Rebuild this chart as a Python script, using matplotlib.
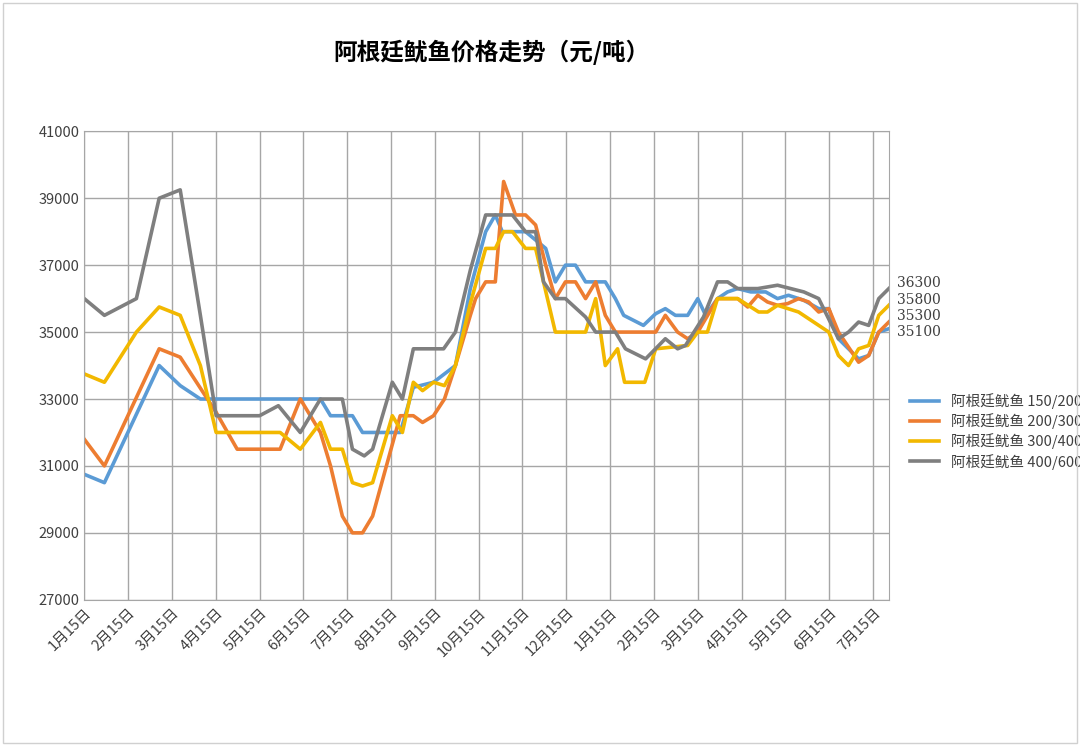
import matplotlib
matplotlib.use("Agg")
import matplotlib.pyplot as plt
from matplotlib.patches import Rectangle
from matplotlib import font_manager

cjk = [f.name for f in font_manager.fontManager.ttflist if "CJK" in f.name]
plt.rcParams['font.family'] = "sans-serif"
plt.rcParams['font.sans-serif'] = sorted(set(cjk), key=lambda n: ("SC" not in n, n)) + ["DejaVu Sans"]

# month labels (x = months since first label)
months = ["1月15日", "2月15日", "3月15日", "4月15日", "5月15日", "6月15日", "7月15日",
          "8月15日", "9月15日", "10月15日", "11月15日", "12月15日", "1月15日", "2月15日",
          "3月15日", "4月15日", "5月15日", "6月15日", "7月15日"]

names = ["阿根廷鱿鱼 150/200g", "阿根廷鱿鱼 200/300g", "阿根廷鱿鱼 300/400g", "阿根廷鱿鱼 400/600g"]
colors = ["#5b9bd5", "#ed7d31", "#f2b800", "#7f7f7f"]

x_150 = [0, 0.46, 1.71, 2.19, 2.65, 5.39, 5.62, 6.12, 6.35, 7.21, 7.51, 7.97, 8.47, 8.81, 9.16,
         9.38, 9.54, 10.07, 10.53, 10.75, 10.98, 11.21, 11.44, 11.89, 12.12, 12.31, 12.76, 13.04,
         13.26, 13.49, 13.77, 14.0, 14.18, 14.45, 14.68, 14.91, 15.21, 15.55, 15.82, 16.07, 16.42,
         16.76, 16.99, 17.21, 17.67, 17.9, 18.13, 18.36]
y_150 = [30750, 30500, 34000, 33400, 33000, 33000, 32500, 32500, 32000, 32000, 33350, 33500, 34000,
         36300, 38000, 38500, 38000, 38000, 37500, 36500, 37000, 37000, 36500, 36500, 36000, 35500,
         35200, 35550, 35700, 35500, 35500, 36000, 35500, 36000, 36200, 36300, 36200, 36200, 36000,
         36100, 35950, 35700, 35700, 34800, 34200, 34300, 35000, 35100]

x_200 = [0, 0.46, 1.71, 2.19, 3.01, 3.49, 4.47, 4.93, 5.39, 5.62, 5.89, 6.12, 6.35, 6.58, 7.21,
         7.51, 7.72, 7.97, 8.22, 8.47, 8.81, 8.93, 9.16, 9.38, 9.57, 9.84, 10.07, 10.3, 10.53,
         10.75, 10.98, 11.21, 11.44, 11.67, 11.89, 12.12, 13.04, 13.26, 13.54, 13.77, 14.0, 14.45,
         14.91, 15.14, 15.37, 15.59, 15.82, 16.05, 16.3, 16.53, 16.76, 16.99, 17.21, 17.44, 17.67,
         17.9, 18.13, 18.36]
y_200 = [31800, 31000, 34500, 34250, 32600, 31500, 31500, 33000, 32000, 31000, 29500, 29000, 29000,
         29500, 32500, 32500, 32300, 32500, 33000, 34000, 35500, 36000, 36500, 36500, 39500, 38500,
         38500, 38200, 37000, 36000, 36500, 36500, 36000, 36500, 35500, 35000, 35000, 35500, 35000,
         34800, 35000, 36000, 36000, 35750, 36100, 35900, 35800, 35850, 36000, 35900, 35600, 35700,
         35000, 34550, 34100, 34300, 35000, 35300]

x_300 = [0, 0.46, 1.19, 1.71, 2.19, 2.65, 3.01, 4.47, 4.93, 5.39, 5.62, 5.89, 6.12, 6.35, 6.58,
         7.03, 7.26, 7.51, 7.72, 7.97, 8.22, 8.47, 8.81, 9.16, 9.38, 9.57, 9.77, 10.07, 10.3, 10.75,
         11.44, 11.67, 11.89, 12.17, 12.33, 12.79, 13.04, 13.77, 14.0, 14.22, 14.45, 14.91, 15.39,
         15.59, 15.82, 16.3, 16.99, 17.21, 17.44, 17.67, 17.9, 18.13, 18.36]
y_300 = [33750, 33500, 35000, 35750, 35500, 34000, 32000, 32000, 31500, 32300, 31500, 31500, 30500,
         30400, 30500, 32500, 32000, 33500, 33250, 33500, 33400, 34000, 35850, 37500, 37500, 38000,
         38000, 37500, 37500, 35000, 35000, 36000, 34000, 34500, 33500, 33500, 34500, 34600, 35000,
         35000, 36000, 36000, 35600, 35600, 35800, 35600, 35000, 34300, 34000, 34500, 34600, 35500,
         35800]

x_400 = [0, 0.46, 1.19, 1.71, 2.19, 2.65, 3.01, 4.0, 4.43, 4.93, 5.39, 5.89, 6.12, 6.39, 6.58,
         7.03, 7.26, 7.51, 8.2, 8.47, 8.81, 9.16, 9.77, 10.07, 10.3, 10.48, 10.75, 10.98, 11.44,
         11.67, 12.12, 12.35, 12.81, 13.26, 13.54, 13.72, 14.13, 14.45, 14.68, 14.91, 15.37, 15.82,
         16.42, 16.76, 17.21, 17.44, 17.67, 17.9, 18.13, 18.36]
y_400 = [36000, 35500, 36000, 39000, 39250, 35500, 32500, 32500, 32800, 32000, 33000, 33000, 31500,
         31300, 31500, 33500, 33000, 34500, 34500, 35000, 36850, 38500, 38500, 38000, 38000, 36500,
         36000, 36000, 35450, 35000, 35000, 34500, 34200, 34800, 34500, 34600, 35450, 36500, 36500,
         36300, 36300, 36400, 36200, 36000, 34800, 35000, 35300, 35200, 36000, 36300]

series = [(x_150, y_150), (x_200, y_200), (x_300, y_300), (x_400, y_400)]

fig = plt.figure(figsize=(10.8, 7.46), dpi=100)
fig.patches.append(Rectangle((0.003, 0.004), 0.994, 0.992, transform=fig.transFigure,
                             fill=False, edgecolor="#d0d0d0", linewidth=1))
ax = fig.add_axes([0.078, 0.196, 0.745, 0.628])

for (xs, ys), name, c in zip(series, names, colors):
    ax.plot(xs, ys, color=c, linewidth=2.6, label=name, solid_joinstyle="round")
    ax.annotate(str(ys[-1]), (xs[-1], ys[-1]), xytext=(6, 4 if ys[-1] != 35100 else -2),
                textcoords="offset points", va="center", fontsize=10, color="#404040",
                family="DejaVu Serif")

ax.set_xlim(0, 18.36)
ax.set_ylim(27000, 41000)
ax.set_yticks(range(27000, 41001, 2000))
ax.set_xticks(range(len(months)))
ax.set_xticklabels(months, rotation=45, ha="right", rotation_mode="anchor", fontsize=10.5)
ax.tick_params(axis="y", labelsize=10.5, length=0, labelcolor="#404040")
ax.tick_params(axis="x", length=0, pad=4, labelcolor="#404040")
ax.grid(True, color="#a6a6a6", linewidth=1)
for s in ax.spines.values():
    s.set_color("#a6a6a6")
ax.set_axisbelow(True)

fig.text(0.455, 0.93, "阿根廷鱿鱼价格走势（元/吨）", ha="center", va="center",
         fontsize=17, fontweight="bold")
ax.legend(loc="center left", bbox_to_anchor=(1.01, 0.36), frameon=False, fontsize=10.5,
          handlelength=2, labelspacing=0.3, labelcolor="#404040")

fig.savefig("out.png", dpi=100)
